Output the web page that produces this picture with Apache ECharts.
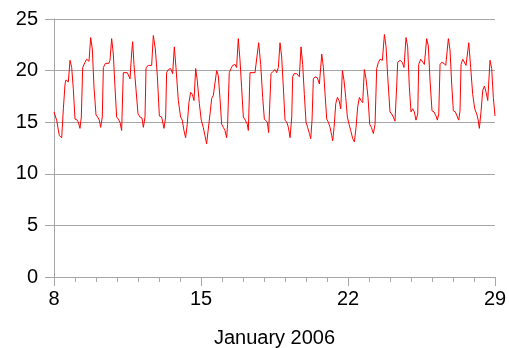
<!DOCTYPE html>
<html>
<head>
<meta charset="utf-8">
<script src="https://cdn.jsdelivr.net/npm/echarts@6/dist/echarts.min.js"></script>
<style>
  html, body { margin: 0; padding: 0; background: #fff; }
  #chart { width: 509px; height: 348px; }
</style>
</head>
<body>
<div id="chart"></div>
<script>
// hours since 8 January 2006 00:00
const hours = [
  0, 3.0, 6.1, 8.8, 10.7, 12.6, 13.7, 16.4, 18.3, 20.2, 22.1,
  24.0, 26.7, 27.8, 29.7, 31.2, 32.8, 35.4, 37.3, 40.0, 41.9, 43.8, 45.7,
  48.0, 49.9, 51.8, 53.3, 55.2, 56.4, 58.7, 62.5, 64.0, 65.9, 67.8, 69.7,
  71.6, 73.5, 75.4, 77.3, 79.2, 81.2, 83.8, 86.9, 88.8, 89.9, 91.4, 93.7,
  96.0, 98.3, 100.6, 102.1, 104.0, 105.2, 107.8, 111.6, 113.5, 115.8, 118.1,
  120.4, 123.0, 125.7, 127.6, 128.7, 130.6, 133.3, 135.6, 137.5, 139.4, 142.1,
  144.7, 146.6, 148.5, 150.4, 152.3, 154.2, 156.2, 158.1, 160.0, 161.9, 163.8, 166.1,
  168.3, 170.6, 172.5, 174.4, 176.3, 178.3, 180.2, 182.1, 184.0, 185.9, 187.8, 189.7,
  191.6, 193.5, 195.4, 197.3, 198.4, 200.3, 202.3, 204.2, 206.8, 208.7, 210.6, 212.5, 214.4,
  216.4, 218.6, 220.9, 222.1, 224.0, 225.9, 229.7, 231.6, 233.9, 236.2, 238.5,
  240.4, 242.3, 243.8, 245.3, 248.0, 249.9, 252.6, 254.5, 256.4, 258.3, 260.2, 262.1,
  264.0, 266.0, 267.9, 269.8, 271.7, 272.8, 274.3, 277.4, 280.4, 282.3, 284.2, 286.1,
  288.0, 289.9, 291.9, 293.4, 294.9, 296.4, 298.3, 301.0, 303.3, 306.0, 307.9, 309.8,
  311.7, 313.6, 315.5, 317.4, 318.5, 320.1, 322.0, 323.9, 325.8, 327.7, 329.6, 331.5, 333.4,
  335.3, 337.2, 339.1, 341.4, 343.3, 345.2, 347.1, 349.0, 350.9, 352.8, 354.7, 356.6, 358.9,
  360.8, 362.7, 365.0, 366.9, 368.8, 370.7, 372.6, 375.3, 377.6, 379.5, 381.4,
  384.0, 385.9, 387.8, 389.7, 391.6, 392.8, 395.5, 398.1, 400.0, 402.3, 404.2, 406.1,
  408.0, 410.0, 411.8, 413.7, 415.7, 416.8, 419.1, 421.0, 423.3, 425.9, 427.8, 429.8,
  432.0, 434.3, 436.6, 438.1, 439.7, 441.2, 443.1, 445.8, 447.7, 450.7, 452.6, 454.5,
  456.4, 458.7, 460.6, 462.5, 464.0, 465.2, 467.1, 468.6, 470.9, 474.0, 476.2, 478.5,
  480.8, 483.1, 484.6, 486.1, 488.0, 490.0, 491.9, 493.8, 495.7, 498.3, 500.2, 502.1, 504.0
];

const temps = [
  16.0, 15.2, 13.7, 13.5, 16.3, 18.7, 19.1, 18.9, 21.0, 20.3, 18.2,
  15.3, 15.2, 15.0, 14.4, 15.5, 20.3, 20.8, 21.1, 20.9, 23.2, 22.1, 18.4,
  15.7, 15.5, 15.2, 14.5, 15.5, 20.3, 20.7, 20.7, 21.0, 23.1, 21.6, 18.4,
  15.5, 15.3, 15.0, 14.2, 19.8, 19.9, 19.8, 19.2, 21.8, 22.8, 20.6, 18.2,
  15.8, 15.5, 15.4, 14.5, 15.5, 20.3, 20.5, 20.5, 23.4, 22.1, 19.5,
  15.6, 15.5, 14.4, 15.5, 19.8, 20.1, 20.2, 19.7, 22.3, 20.3, 17.1,
  15.5, 15.2, 14.2, 13.5, 14.8, 16.9, 17.9, 17.7, 17.1, 20.2, 19.0, 16.8,
  15.2, 14.5, 13.7, 12.9, 12.9, 15.8, 17.3, 17.6, 17.6, 20.0, 19.5, 17.3,
  14.8, 14.5, 14.2, 13.5, 14.8, 19.8, 20.2, 20.5, 20.6, 20.3, 23.1, 21.1, 18.4,
  15.5, 15.2, 14.8, 14.2, 19.8, 19.8, 19.8, 19.7, 22.7, 20.6, 17.4,
  15.3, 15.2, 15.0, 14.0, 19.7, 19.9, 20.1, 19.8, 20.3, 22.7, 21.3, 18.4,
  15.2, 15.0, 14.5, 13.5, 15.5, 19.4, 19.7, 19.7, 19.4, 22.3, 20.6, 17.7,
  15.0, 14.5, 13.9, 13.4, 15.2, 19.2, 19.4, 19.3, 18.7, 21.6, 20.3, 17.7,
  15.3, 15.0, 14.5, 13.7, 13.2, 14.5, 16.8, 17.4, 17.1, 16.3, 20.0, 19.0, 17.4,
  15.5, 14.8, 14.2, 13.4, 13.1, 14.5, 16.5, 17.4, 17.1, 16.9, 20.1, 19.2, 17.4,
  14.8, 14.5, 13.9, 14.8, 20.2, 20.8, 21.1, 21.0, 23.5, 22.3, 19.4,
  16.0, 15.8, 15.5, 15.1, 18.4, 20.8, 21.0, 20.8, 20.3, 23.2, 22.3, 18.4,
  16.0, 16.3, 16.0, 15.2, 15.8, 20.6, 21.1, 21.0, 20.6, 23.1, 22.4, 19.0,
  16.1, 16.0, 15.6, 15.2, 15.8, 20.6, 20.8, 20.7, 20.5, 23.1, 22.0, 18.7,
  16.1, 16.0, 15.6, 15.2, 16.1, 20.6, 21.1, 21.1, 20.5, 22.7, 20.3, 17.7,
  16.3, 15.8, 15.3, 14.4, 16.0, 18.1, 18.5, 17.9, 17.1, 21.0, 20.2, 17.4, 15.6
];

const firstDay = 8;          // January 8
const lastHour = 504;        // January 29 00:00
const weekHours = 168;
const xTitle = 'January 2006';

const font = "'Liberation Sans', Arial, sans-serif";
const gray = '#a6a6a6';

const chart = echarts.init(document.getElementById('chart'));

chart.setOption({
  animation: false,
  grid: { left: 54, right: 14, top: 19, bottom: 71, outerBoundsMode: 'none' },
  xAxis: {
    type: 'value',
    min: 0,
    max: lastHour,
    interval: weekHours,
    name: xTitle,
    nameLocation: 'middle',
    nameGap: 51,
    nameTextStyle: { fontFamily: font, fontSize: 20, color: '#000' },
    axisLine: { show: true, onZero: false, lineStyle: { color: gray, width: 1 } },
    axisTick: { show: true, length: 9, lineStyle: { color: gray } },
    minorTick: { show: true, splitNumber: 7, length: 5, lineStyle: { color: gray } },
    splitLine: { show: false },
    axisLabel: {
      fontFamily: font, fontSize: 20, color: '#000', margin: 12,
      formatter: v => String(firstDay + v / 24)
    }
  },
  yAxis: {
    type: 'value',
    min: 0,
    max: 25,
    interval: 5,
    axisLine: { show: true, lineStyle: { color: gray, width: 1 } },
    axisTick: { show: true, length: 9, lineStyle: { color: gray } },
    splitLine: { show: true, lineStyle: { color: gray, width: 1 } },
    axisLabel: { fontFamily: font, fontSize: 20, color: '#000', margin: 16 }
  },
  series: [{
    type: 'line',
    data: hours.map((h, i) => [h, temps[i]]),
    showSymbol: false,
    symbol: 'none',
    lineStyle: { color: '#ff0000', width: 1 },
    z: 3
  }]
});
</script>
</body>
</html>
